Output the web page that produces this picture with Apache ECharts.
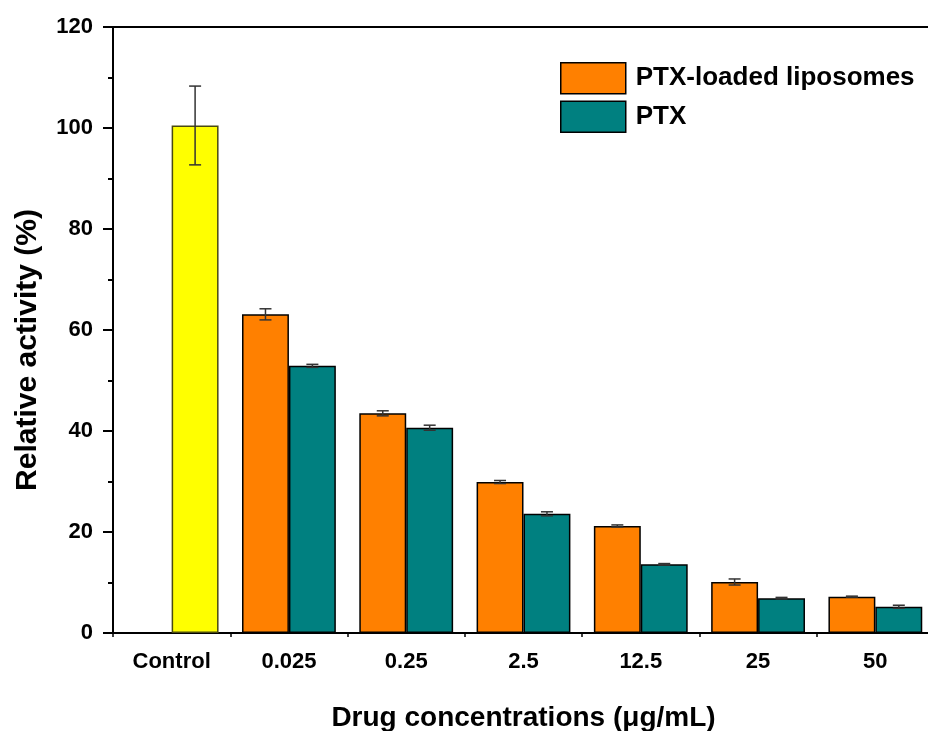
<!DOCTYPE html>
<html>
<head>
<meta charset="utf-8">
<script src="https://cdn.jsdelivr.net/npm/echarts@6/dist/echarts.min.js"></script>
<style>html,body{margin:0;padding:0;background:#fff;}#chart{width:928px;height:731px;}</style>
</head>
<body>
<div id="chart"></div>
<script>
const categories = ['Control', '0.025', '0.25', '2.5', '12.5', '25', '50'];
const controlValue = 100.5;
const controlErr = 7.8;
const liposomeValues = [63.1, 43.5, 29.9, 21.2, 10.1, 7.2];
const liposomeErr = [1.1, 0.5, 0.3, 0.2, 0.6, 0.1];
const ptxValues = [52.9, 40.65, 23.6, 13.6, 6.9, 5.2];
const ptxErr = [0.3, 0.5, 0.4, 0.15, 0.15, 0.3];
const yTicks = [0, 20, 40, 60, 80, 100, 120];

const FONT = '"Liberation Sans", Arial, sans-serif';

const lipoBar = ['-'].concat(liposomeValues);
const ptxBar = [{ value: controlValue, itemStyle: { color: '#FFFF00', borderColor: '#4a4a10' } }].concat(ptxValues);

const lipoErrData = liposomeValues.map((v, i) => [i + 1, v, liposomeErr[i]]);
const ptxErrData = [[0, controlValue, controlErr]].concat(ptxValues.map((v, i) => [i + 1, v, ptxErr[i]]));

function errRender(side) {
  return function (params, api) {
    const x = api.value(0), v = api.value(1), e = api.value(2);
    const band = api.size([1, 0])[0];
    const cx = api.coord([x, v])[0] + side * 0.2 * band;
    const yt = api.coord([x, v + e])[1];
    const yb = api.coord([x, v - e])[1];
    const hw = 6;
    const st = { stroke: '#333', lineWidth: 1.5 };
    return {
      type: 'group',
      children: [
        { type: 'line', shape: { x1: cx, y1: yt, x2: cx, y2: yb }, style: st },
        { type: 'line', shape: { x1: cx - hw, y1: yt, x2: cx + hw, y2: yt }, style: st },
        { type: 'line', shape: { x1: cx - hw, y1: yb, x2: cx + hw, y2: yb }, style: st }
      ]
    };
  };
}

const chart = echarts.init(document.getElementById('chart'));
chart.setOption({
  animation: false,
  backgroundColor: '#fff',
  textStyle: { fontFamily: FONT },
  grid: { left: 113, top: 27, bottom: 98, right: -6, containLabel: false, outerBoundsMode: 'none' },
  legend: {
    left: 555, top: 57, orient: 'vertical',
    icon: 'rect',
    itemWidth: 65, itemHeight: 31, itemGap: 6,
    data: ['PTX-loaded liposomes', 'PTX'],
    itemStyle: { borderColor: '#000', borderWidth: 1.5 },
    textStyle: { fontFamily: FONT, fontWeight: 'bold', fontSize: 26, color: '#000', padding: [0, 0, 0, 5] }
  },
  xAxis: [
    {
      type: 'category', data: categories, position: 'bottom',
      name: 'Drug concentrations (\u03bcg/mL)', nameLocation: 'middle', nameGap: 71,
      nameTextStyle: { fontFamily: FONT, fontWeight: 'bold', fontSize: 28, color: '#000' },
      axisLine: { lineStyle: { color: '#000', width: 2 } },
      axisTick: { alignWithLabel: true, length: 11, lineStyle: { color: '#000', width: 2 } },
      axisLabel: { margin: 18, fontFamily: FONT, fontWeight: 'bold', fontSize: 22, color: '#000' },
      splitLine: { show: false }
    },
    {
      type: 'category', data: categories, position: 'top',
      axisLine: { show: true, lineStyle: { color: '#000', width: 2 } },
      axisTick: { show: false }, axisLabel: { show: false }, splitLine: { show: false }
    },
    {
      type: 'category', data: categories, position: 'bottom',
      axisLine: { show: false },
      axisTick: { show: true, length: 4, lineStyle: { color: '#000', width: 1.5 } },
      axisLabel: { show: false }, splitLine: { show: false }
    }
  ],
  yAxis: {
    type: 'value', min: 0, max: 120, interval: 20,
    name: 'Relative activity (%)', nameLocation: 'middle', nameGap: 70,
    nameTextStyle: { fontFamily: FONT, fontWeight: 'bold', fontSize: 30, color: '#000', padding: [0, 40, 0, 0] },
    axisLine: { show: true, lineStyle: { color: '#000', width: 2 } },
    axisTick: { show: true, length: 10, lineStyle: { color: '#000', width: 2 } },
    minorTick: { show: true, splitNumber: 2, length: 5, lineStyle: { color: '#000', width: 2 } },
    axisLabel: {
      margin: 20, fontFamily: FONT, fontWeight: 'bold', fontSize: 22, color: '#000',
      formatter: v => (yTicks.indexOf(v) >= 0 ? String(v) : '')
    },
    splitLine: { show: false }
  },
  series: [
    {
      name: 'PTX-loaded liposomes', type: 'bar', data: lipoBar,
      barGap: '0%', barCategoryGap: '20%',
      itemStyle: { color: '#FF8000', borderColor: '#000', borderWidth: 1.5 }
    },
    {
      name: 'PTX', type: 'bar', data: ptxBar,
      barGap: '0%', barCategoryGap: '20%',
      itemStyle: { color: '#008080', borderColor: '#000', borderWidth: 1.5 }
    },
    {
      type: 'custom', renderItem: errRender(-1), data: lipoErrData,
      encode: { x: 0, y: 1 }, z: 5, silent: true
    },
    {
      type: 'custom', renderItem: errRender(1), data: ptxErrData,
      encode: { x: 0, y: 1 }, z: 5, silent: true
    }
  ]
});
</script>
</body>
</html>
